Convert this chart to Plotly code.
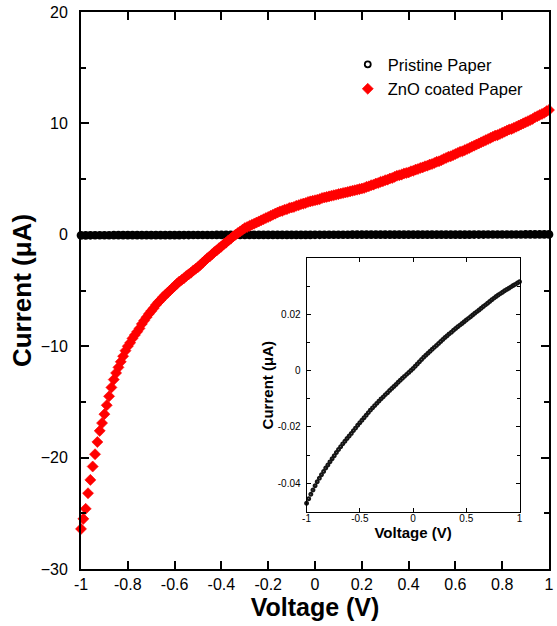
import numpy as np
import plotly.graph_objects as go

# ZnO coated paper: voltage sweep -1..1 V, step 0.01
voltage_zno = np.round(np.linspace(-1.0, 1.0, 201), 2)
current_zno = [
    -26.4, -25.5, -24.6, -23.2, -22.0, -20.8, -19.7, -18.6, -17.6, -16.9,
    -16.1, -15.3, -14.5, -13.7, -13.0, -12.4, -11.9, -11.4, -10.9, -10.4,
    -10.0, -9.7, -9.3, -9.0, -8.7, -8.4, -8.0, -7.7, -7.4, -7.1,
    -6.85, -6.6, -6.3, -6.05, -5.85, -5.6, -5.4, -5.2, -5.0, -4.8,
    -4.6, -4.4, -4.2, -4.05, -3.9, -3.7, -3.55, -3.4, -3.2, -3.05,
    -2.9, -2.7, -2.5, -2.3, -2.1, -1.95, -1.75, -1.55, -1.4, -1.2,
    -1.05, -0.85, -0.7, -0.5, -0.35, -0.15, 0.0, 0.15, 0.3, 0.45,
    0.6, 0.7, 0.8, 0.9, 1.0, 1.1, 1.2, 1.3, 1.4, 1.5,
    1.6, 1.7, 1.8, 1.9, 2.0, 2.1, 2.15, 2.25, 2.3, 2.4,
    2.45, 2.5, 2.6, 2.65, 2.75, 2.8, 2.85, 2.95, 3.0, 3.05,
    3.1, 3.15, 3.2, 3.3, 3.35, 3.4, 3.45, 3.5, 3.55, 3.6,
    3.65, 3.7, 3.75, 3.8, 3.85, 3.9, 3.95, 4.0, 4.05, 4.1,
    4.15, 4.2, 4.3, 4.35, 4.45, 4.5, 4.6, 4.65, 4.75, 4.8,
    4.9, 4.95, 5.05, 5.1, 5.2, 5.3, 5.35, 5.4, 5.5, 5.55,
    5.6, 5.7, 5.75, 5.85, 5.9, 6.0, 6.05, 6.15, 6.2, 6.3,
    6.35, 6.45, 6.55, 6.6, 6.7, 6.8, 6.9, 7.0, 7.05, 7.15,
    7.25, 7.35, 7.45, 7.5, 7.6, 7.7, 7.8, 7.9, 8.0, 8.1,
    8.2, 8.3, 8.4, 8.5, 8.6, 8.7, 8.8, 8.9, 8.95, 9.05,
    9.15, 9.25, 9.35, 9.45, 9.5, 9.6, 9.7, 9.8, 9.9, 10.0,
    10.1, 10.2, 10.3, 10.4, 10.55, 10.65, 10.75, 10.85, 10.95, 11.1,
    11.2,
]

# Pristine paper: voltage sweep -1..1 V, step 0.02
voltage_pristine = np.round(np.linspace(-1.0, 1.0, 101), 2)
current_pristine = [
    -0.0471, -0.0455, -0.0439, -0.0424, -0.0409, -0.0395, -0.0382, -0.0370, -0.0358, -0.0346,
    -0.0335, -0.0324, -0.0313, -0.0302, -0.0291, -0.0280, -0.0270, -0.0260, -0.0251, -0.0241,
    -0.0232, -0.0223, -0.0213, -0.0204, -0.0194, -0.0185, -0.0176, -0.0167, -0.0158, -0.0149,
    -0.0140, -0.0132, -0.0124, -0.0116, -0.0108, -0.0100, -0.0093, -0.0085, -0.0078, -0.0070,
    -0.0063, -0.0056, -0.0049, -0.0041, -0.0034, -0.0027, -0.0020, -0.0013, -0.0006, 0.0001,
    0.0008, 0.0016, 0.0024, 0.0032, 0.0040, 0.0048, 0.0055, 0.0062, 0.0069, 0.0076,
    0.0083, 0.0090, 0.0097, 0.0104, 0.0111, 0.0118, 0.0124, 0.0131, 0.0137, 0.0144,
    0.0150, 0.0156, 0.0162, 0.0168, 0.0174, 0.0180, 0.0186, 0.0192, 0.0198, 0.0204,
    0.0210, 0.0216, 0.0222, 0.0228, 0.0234, 0.0240, 0.0246, 0.0252, 0.0258, 0.0264,
    0.0269, 0.0274, 0.0279, 0.0284, 0.0289, 0.0293, 0.0298, 0.0303, 0.0307, 0.0312,
    0.0316,
]

main_xticks = [-1, -0.8, -0.6, -0.4, -0.2, 0, 0.2, 0.4, 0.6, 0.8, 1]
main_xlabels = ["-1", "-0.8", "-0.6", "-0.4", "-0.2", "0", "0.2", "0.4", "0.6", "0.8", "1"]
main_yticks = [-30, -20, -10, 0, 10, 20]
inset_xticks = [-1, -0.5, 0, 0.5, 1]
inset_xlabels = ["-1", "-0.5", "0", "0.5", "1"]
inset_yticks = [-0.04, -0.02, 0, 0.02]
inset_ylabels = ["-0.04", "-0.02", "0", "0.02"]

FONT = "Liberation Sans, Arial, Helvetica, sans-serif"

fig = go.Figure()

# main-panel pristine data (dense open circles forming a solid band)
fig.add_trace(go.Scatter(
    x=voltage_pristine, y=current_pristine, mode="lines+markers", showlegend=False,
    line=dict(color="black", width=6),
    marker=dict(symbol="circle-open", size=4.5, color="black", line=dict(width=4.2, color="black")),
    cliponaxis=False, xaxis="x", yaxis="y",
))
# legend entry for pristine paper (open circle)
fig.add_trace(go.Scatter(
    x=[None], y=[None], mode="markers", name="Pristine Paper",
    marker=dict(symbol="circle-open", size=6, color="black", line=dict(width=1.8, color="black")),
    xaxis="x", yaxis="y",
))
fig.add_trace(go.Scatter(
    x=voltage_zno, y=current_zno, mode="markers", name="ZnO coated Paper",
    marker=dict(symbol="diamond", size=8.5, color="#ff0000", line=dict(width=0.6, color="#ff0000")),
    cliponaxis=False, xaxis="x", yaxis="y",
))
fig.add_trace(go.Scatter(
    x=voltage_pristine, y=current_pristine, mode="markers", showlegend=False,
    marker=dict(symbol="circle-open", size=2.8, color="#151515", line=dict(width=2.1, color="#151515")),
    cliponaxis=False, xaxis="x2", yaxis="y2",
))

axis_common = dict(showgrid=False, zeroline=False, showline=True, linecolor="black",
                   mirror="ticks", ticks="inside", tickcolor="black")

fig.update_layout(
    width=557, height=626,
    margin=dict(l=81, r=3, t=12, b=57),
    paper_bgcolor="white", plot_bgcolor="white",
    font=dict(family=FONT, color="black"),
    xaxis=dict(**axis_common, domain=[0, 1], range=[-1, 1], tickvals=main_xticks,
               ticktext=main_xlabels, linewidth=2, ticklen=8, tickwidth=2,
               tickfont=dict(size=16), ticklabelstandoff=0,
               title=dict(text="<b>Voltage (V)</b>", font=dict(size=25), standoff=0)),
    yaxis=dict(**axis_common, domain=[0, 1], range=[-30, 20], tickvals=main_yticks,
               linewidth=2, ticklen=8, tickwidth=2, tickfont=dict(size=16),
               ticklabelstandoff=8,
               minor=dict(dtick=5, ticks="inside", ticklen=5, tickwidth=2, tickcolor="black"),
               title=dict(text="<b>Current (μA)</b>", font=dict(size=26), standoff=2)),
    xaxis2=dict(**axis_common, domain=[0.482, 0.937], anchor="y2", range=[-1, 1],
                tickvals=inset_xticks, ticktext=inset_xlabels, linewidth=1, ticklen=4,
                tickwidth=1, tickfont=dict(size=10), ticklabelstandoff=-3,
                title=dict(text="<b>Voltage (V)</b>", font=dict(size=15), standoff=0)),
    yaxis2=dict(**axis_common, domain=[0.102, 0.558], anchor="x2", range=[-0.0503, 0.04],
                tickvals=inset_yticks, ticktext=inset_ylabels, linewidth=1, ticklen=4,
                tickwidth=1, tickfont=dict(size=10), ticklabelstandoff=3,
                minor=dict(dtick=0.01, ticks="inside", ticklen=3, tickwidth=1, tickcolor="black"),
                title=dict(text="<b>Current (μA)</b>", font=dict(size=15), standoff=0)),
    legend=dict(x=0.57, y=0.937, xanchor="left", yanchor="top", bgcolor="rgba(0,0,0,0)",
                borderwidth=0, font=dict(size=16.5)),
    showlegend=True,
)

fig.write_html("out.html")
